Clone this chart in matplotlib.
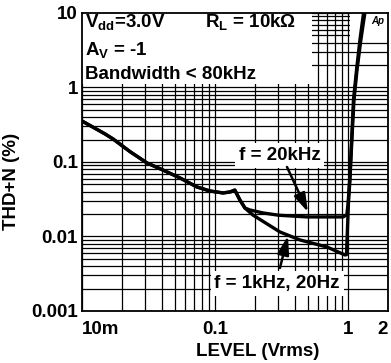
import matplotlib
matplotlib.use("Agg")
import matplotlib.pyplot as plt
import matplotlib.transforms as mtransforms
from matplotlib.patches import Rectangle
from matplotlib.ticker import FixedLocator, FixedFormatter, LogLocator, NullFormatter

plt.rcParams['font.family'] = ['Liberation Sans', 'DejaVu Sans']
plt.rcParams['font.weight'] = 'bold'
plt.rcParams['axes.labelweight'] = 'bold'
plt.rcParams['mathtext.fontset'] = 'custom'
plt.rcParams['mathtext.rm'] = 'Liberation Sans:bold'
plt.rcParams['mathtext.it'] = 'Liberation Sans:bold'
plt.rcParams['mathtext.bf'] = 'Liberation Sans:bold'

# THD+N vs output level, f = 1kHz / 20Hz
level_1k = [0.0100, 0.0149, 0.0171, 0.0230, 0.0308, 0.0406, 0.0546, 0.0732, 0.0917,
            0.115, 0.130, 0.141, 0.154, 0.168, 0.193, 0.308, 0.436, 0.695, 0.949,
            0.975, 0.99, 1.01, 1.035, 1.07, 1.11, 1.17, 1.25, 1.34, 1.38]
thd_1k = [0.355, 0.238, 0.204, 0.1375, 0.097, 0.078, 0.061, 0.0462, 0.0408,
          0.0384, 0.0396, 0.042, 0.0309, 0.0241, 0.0194, 0.0115, 0.00898, 0.00723, 0.00565,
          0.0057, 0.012, 0.03, 0.0573, 0.197, 0.68, 1.72, 4.34, 10.0, 12.0]

# THD+N vs output level, f = 20kHz
level_20k = [0.0100, 0.0149, 0.0171, 0.0230, 0.0308, 0.0406, 0.0546, 0.0732, 0.0917,
             0.115, 0.130, 0.141, 0.154, 0.168, 0.183, 0.230, 0.300, 0.492, 0.917,
             0.98, 1.0, 1.03, 1.065, 1.10, 1.16, 1.23, 1.31, 1.35]
thd_20k = [0.355, 0.238, 0.204, 0.1375, 0.097, 0.078, 0.061, 0.0462, 0.0408,
           0.0384, 0.0396, 0.042, 0.0309, 0.0241, 0.0227, 0.0207, 0.0193, 0.0183, 0.0183,
           0.0195, 0.0265, 0.0573, 0.197, 0.68, 1.72, 4.34, 10.0, 12.0]

x_ticks = [0.01, 0.1, 1, 2]
x_ticklabels = ["10m", "0.1", "1", "2"]
y_ticks = [0.001, 0.01, 0.1, 1, 10]
y_ticklabels = ["0.001", "0.01", "0.1", "1", "10"]

fig = plt.figure(figsize=(3.91, 3.63), dpi=100)
ax = fig.add_axes([0.2097, 0.1433, 0.7826, 0.8209])
ax.set_xscale('log')
ax.set_yscale('log')
ax.set_xlim(0.01, 2)
ax.set_ylim(0.001, 10)

ax.xaxis.set_major_locator(FixedLocator(x_ticks))
ax.xaxis.set_major_formatter(FixedFormatter(x_ticklabels))
ax.xaxis.set_minor_locator(LogLocator(base=10, subs=range(2, 10)))
ax.xaxis.set_minor_formatter(NullFormatter())
ax.yaxis.set_major_locator(FixedLocator(y_ticks))
ax.yaxis.set_major_formatter(FixedFormatter(y_ticklabels))
ax.yaxis.set_minor_locator(LogLocator(base=10, subs=range(2, 10)))
ax.yaxis.set_minor_formatter(NullFormatter())

ax.set_axisbelow(True)
ax.grid(which='both', color='black', linewidth=0.9)
ax.tick_params(which='both', length=0, labelsize=13.5)
ax.tick_params(axis='x', pad=7)
ax.tick_params(axis='y', pad=3)
xlabels = ax.get_xticklabels()
xlabels[0].set_horizontalalignment('left')
# pull the last label in a little so it stays on the canvas
xlabels[-1].set_transform(xlabels[-1].get_transform() +
                          mtransforms.ScaledTranslation(-4 / 72, 0, fig.dpi_scale_trans))
for s in ax.spines.values():
    s.set_linewidth(1.3)

# white panels behind the condition text and logo
ax.add_patch(Rectangle((0.01, 1.114), 0.536 - 0.01, 10 - 1.114,
                       facecolor='white', edgecolor='none', zorder=1))
ax.add_patch(Rectangle((1.035, 4.62), 2 - 1.035, 10 - 4.62,
                       facecolor='white', edgecolor='none', zorder=1))

ax.plot(level_20k, thd_20k, color='black', linewidth=2.4, zorder=3, solid_joinstyle='round')
ax.plot(level_1k, thd_1k, color='black', linewidth=2.4, zorder=3, solid_joinstyle='round')

tr = ax.transAxes
ax.text(0.0098, 0.953, r"V$_{\mathrm{dd}}$=3.0V", transform=tr, fontsize=13.5, va='baseline', zorder=4)
ax.text(0.0098, 0.859, r"A$_{\mathrm{V}}$ = -1", transform=tr, fontsize=13.5, va='baseline', zorder=4)
ax.text(0.0098, 0.779, "Bandwidth < 80kHz", transform=tr, fontsize=13.5, va='baseline', zorder=4)
ax.text(0.402, 0.953, r"R$_{\mathrm{L}}$ = 10kΩ", transform=tr, fontsize=13.5, va='baseline', zorder=4)
ax.text(0.944, 0.963, "Ap", transform=tr, fontsize=7, style='italic', va='baseline', zorder=4)

box = dict(boxstyle='square,pad=0.2', facecolor='white', edgecolor='none')
ax.text(0.305, 0.1064, "f = 20kHz", fontsize=13.5, ha='center', va='baseline', bbox=box, zorder=4)
ax.text(0.293, 0.00204, "f = 1kHz, 20Hz", fontsize=13.5, ha='center', va='baseline', bbox=box, zorder=4)

arrow = dict(arrowstyle='-|>,head_length=0.8,head_width=0.25', color='black',
             lw=1.8, mutation_scale=14, shrinkA=0, shrinkB=0)
ax.annotate("", xy=(0.50, 0.0213), xytext=(0.348, 0.0857), arrowprops=arrow, zorder=5)
ax.annotate("", xy=(0.354, 0.0102), xytext=(0.308, 0.00378), arrowprops=arrow, zorder=5)

ax.set_ylabel("THD+N (%)", fontsize=13.5, fontweight='bold')
ax.yaxis.set_label_coords(-0.203, 0.436)
ax.set_xlabel("LEVEL (Vrms)", fontsize=13.5, fontweight='bold')
ax.xaxis.set_label_coords(0.575, -0.107)

fig.savefig("out.png", dpi=100)
